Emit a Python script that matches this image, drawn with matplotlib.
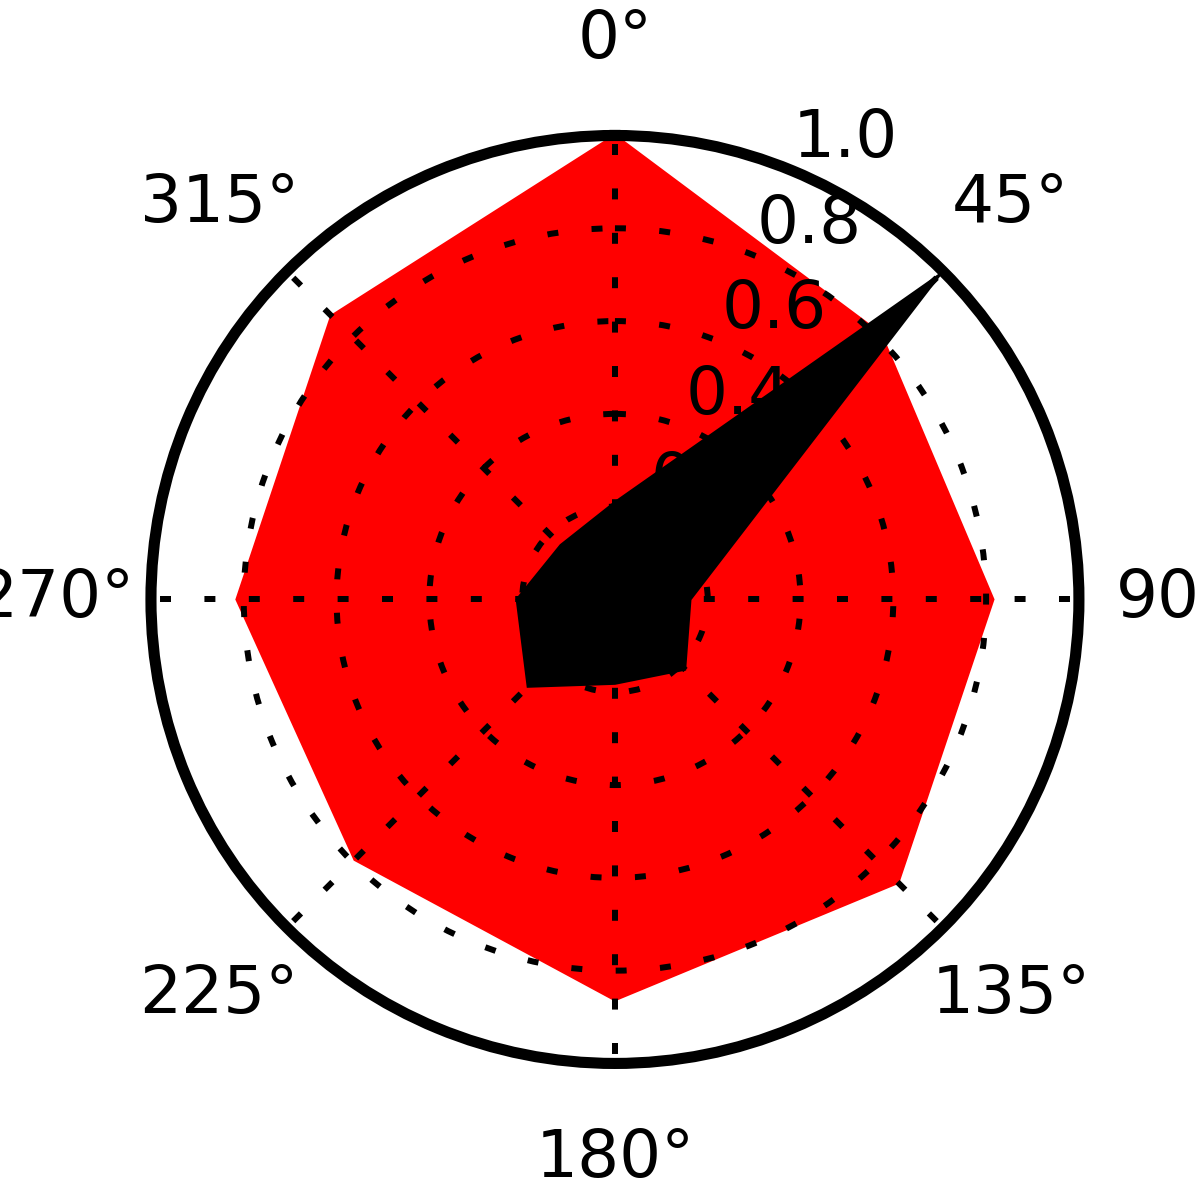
import numpy as np
import matplotlib
matplotlib.use('Agg')
import matplotlib.pyplot as plt

angles_deg = [0, 45, 90, 135, 180, 225, 270, 315]
red_values = [1.0, 0.81, 0.815, 0.863, 0.863, 0.793, 0.815, 0.864]
black_values = [0.209, 0.99, 0.162, 0.213, 0.181, 0.265, 0.211, 0.165]
r_ticks = [0.2, 0.4, 0.6, 0.8, 1.0]

theta = np.deg2rad(angles_deg + [angles_deg[0]])
red_closed = red_values + [red_values[0]]
black_closed = black_values + [black_values[0]]

plt.rcParams['font.size'] = 23.8

fig = plt.figure(figsize=(6, 6), dpi=200)
ax = fig.add_axes([0.1258, 0.1138, 0.7733, 0.7733], projection='polar')
ax.set_theta_zero_location('N')
ax.set_theta_direction(-1)

ax.fill(theta, red_closed, color='red', zorder=1)
ax.fill(theta, black_closed, color='black', zorder=2)

ax.set_ylim(0, 1.0)
ax.set_yticks(r_ticks)
ax.set_xticks(np.deg2rad(angles_deg))
ax.grid(True, color='black', linewidth=2.16, linestyle=(0, (1.83, 5.57)))
ax.spines['polar'].set_linewidth(4)
ax.tick_params(axis='x', pad=24)

fig.savefig('out.png', dpi=200)
